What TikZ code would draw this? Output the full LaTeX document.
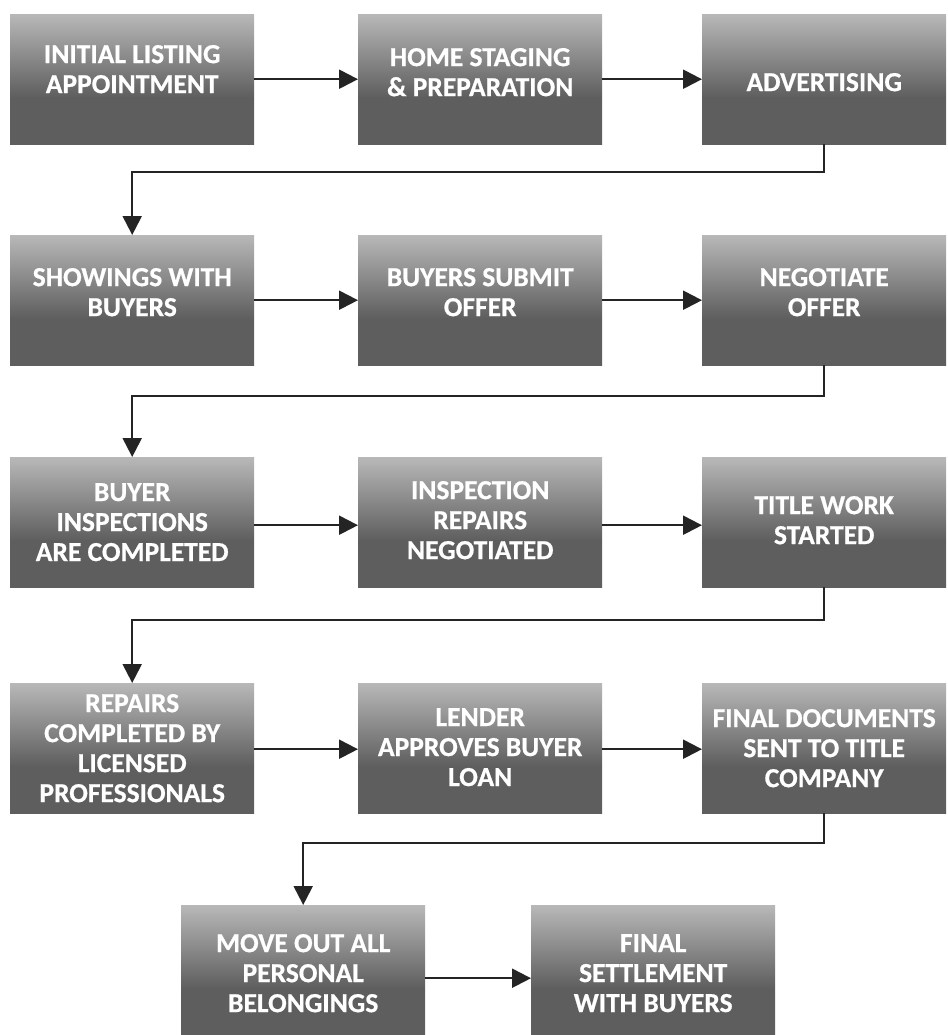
\documentclass[tikz,border=0pt]{standalone}
\usepackage{fontspec}
\setmainfont{Carlito}[BoldFeatures={FakeBold=0.7}]
\usetikzlibrary{arrows.meta}

\definecolor{boxlight}{RGB}{184,184,184}
\definecolor{boxdark}{RGB}{94,94,94}
\definecolor{linkcol}{RGB}{36,36,36}

% vertical gradient: light on top, dark over the lower part
\pgfdeclareverticalshading{stepshade}{100bp}{%
  color(0bp)=(boxdark); color(25bp)=(boxdark); color(43bp)=(boxdark);
  color(75bp)=(boxlight); color(100bp)=(boxlight)}

\tikzset{
  stepbox/.style={rectangle, draw=none, shading=stepshade,
    minimum width=244pt, minimum height=130pt, inner sep=0pt, anchor=north west},
  steptext/.style={text=white, font=\bfseries\fontsize{27.5}{30}\selectfont,
    align=center, inner sep=0pt},
  link/.style={draw=linkcol, line width=2.2pt,
    -{Triangle[length=19pt,width=19pt]}}
}

\begin{document}
\begin{tikzpicture}[x=1pt,y=-1pt]
\useasboundingbox (0,0) rectangle (947,1035);

% row 1
\node[stepbox] (b1)  at (10,14)  {};
\node[stepbox] (b2)  at (358,14) {};
\node[stepbox] (b3)  at (702,14) {};
% row 2
\node[stepbox] (b4)  at (10,235)  {};
\node[stepbox] (b5)  at (358,235) {};
\node[stepbox] (b6)  at (702,235) {};
% row 3
\node[stepbox] (b7)  at (10,457)  {};
\node[stepbox] (b8)  at (358,457) {};
\node[stepbox] (b9)  at (702,457) {};
% row 4
\node[stepbox] (b10) at (10,683)  {};
\node[stepbox] (b11) at (358,683) {};
\node[stepbox] (b12) at (702,683) {};
% row 5
\node[stepbox] (b13) at (181,905) {};
\node[stepbox] (b14) at (531,905) {};

% labels
\node[steptext] (t1)  at ([yshift=10pt]b1.center)  {INITIAL LISTING\\APPOINTMENT};
\node[steptext] (t2)  at ([yshift=7pt]b2.center)   {HOME STAGING\\\& PREPARATION};
\node[steptext] (t3)  at ([yshift=-3pt]b3.center)  {ADVERTISING};
\node[steptext] (t4)  at ([yshift=8pt]b4.center)   {SHOWINGS WITH\\BUYERS};
\node[steptext] (t5)  at ([yshift=8pt]b5.center)   {BUYERS SUBMIT\\OFFER};
\node[steptext] (t6)  at ([yshift=8pt]b6.center)   {NEGOTIATE\\OFFER};
\node[steptext] (t7)  at ([yshift=0pt]b7.center)   {BUYER\\INSPECTIONS\\ARE COMPLETED};
\node[steptext] (t8)  at ([yshift=2pt]b8.center)   {INSPECTION\\REPAIRS\\NEGOTIATED};
\node[steptext] (t9)  at ([yshift=2pt]b9.center)   {TITLE WORK\\STARTED};
\node[steptext] (t10) at ([yshift=0pt]b10.center)  {REPAIRS\\COMPLETED BY\\LICENSED\\PROFESSIONALS};
\node[steptext] (t11) at ([yshift=1pt]b11.center)  {LENDER\\APPROVES BUYER\\LOAN};
\node[steptext] (t12) at ([yshift=0pt]b12.center)  {FINAL DOCUMENTS\\SENT TO TITLE\\COMPANY};
\node[steptext] (t13) at ([yshift=-3pt]b13.center) {MOVE OUT ALL\\PERSONAL\\BELONGINGS};
\node[steptext] (t14) at ([yshift=-3pt]b14.center) {FINAL\\SETTLEMENT\\WITH BUYERS};

% horizontal links
\draw[link] (b1.east) -- (b2.west);
\draw[link] (b2.east) -- (b3.west);
\draw[link] (b4.east) -- (b5.west);
\draw[link] (b5.east) -- (b6.west);
\draw[link] ([yshift=-3pt]b7.east) -- ([yshift=-3pt]b8.west);
\draw[link] ([yshift=-3pt]b8.east) -- ([yshift=-3pt]b9.west);
\draw[link] ([yshift=-1pt]b10.east) -- ([yshift=-1pt]b11.west);
\draw[link] ([yshift=-1pt]b11.east) -- ([yshift=-1pt]b12.west);
\draw[link] ([yshift=-8pt]b13.east) -- ([yshift=-8pt]b14.west);

% elbow links between rows
\coordinate (e1) at (0,172);
\coordinate (e2) at (0,396);
\coordinate (e3) at (0,620);
\coordinate (e4) at (0,843);
\draw[link] (b3.south)  -- (b3.south  |- e1) -| (b4.north);
\draw[link] (b6.south)  -- (b6.south  |- e2) -| (b7.north);
\draw[link] (b9.south)  -- (b9.south  |- e3) -| (b10.north);
\draw[link] (b12.south) -- (b12.south |- e4) -| (b13.north);
\end{tikzpicture}
\end{document}
